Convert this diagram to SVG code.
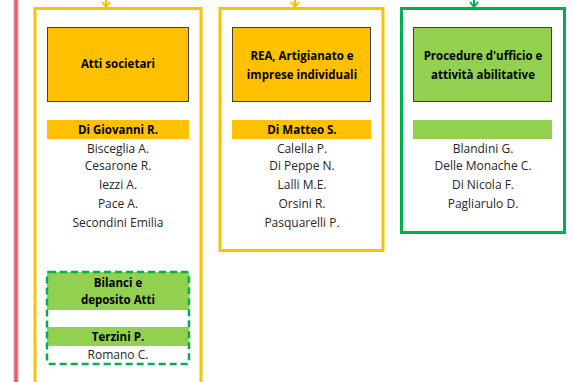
<svg xmlns="http://www.w3.org/2000/svg" width="573" height="382" viewBox="0 0 573 382">
<style>
text{font-family:"Open Sans","Liberation Sans",Arial,sans-serif;font-size:12px;fill:#262626;text-anchor:middle}
.b{font-weight:bold;fill:#000;font-size:11.5px}
.frameY{fill:#fff;stroke:#ffc000;stroke-width:3}
.frameG{fill:#fff;stroke:#00b050;stroke-width:3}
.head{stroke:#3f3f3f;stroke-width:1}
.y{fill:#ffc000}
.g{fill:#92d050}
.arrY{fill:none;stroke:#ffc000;stroke-width:2}
.arrG{fill:none;stroke:#00b050;stroke-width:2}
</style>
<rect x="0" y="0" width="573" height="382" fill="#fff"/>
<g id="redline">
<rect x="14" y="0" width="4" height="382" fill="#d9676b"/>
<rect x="13.5" y="0" width="0.8" height="382" fill="#eeb0b2"/>
<rect x="17.7" y="0" width="0.8" height="382" fill="#eeb0b2"/>
</g>
<g id="connectors">
<path class="arrY" d="M106 0 V7 M102 2 L106 7 L110 2"/>
<path class="arrY" d="M295 0 V7 M291 2 L295 7 L299 2"/>
<path class="arrG" d="M474 0 V7 M470 2 L474 7 L478 2"/>
</g>
<g id="atti-societari">
<rect class="frameY" x="35" y="8.5" width="166" height="380"/>
<rect class="y head" x="47.5" y="27.5" width="141" height="74"/>
<text class="b" x="118" y="68">Atti societari</text>
<rect class="y" x="47" y="120" width="142" height="19"/>
<text class="b" x="118" y="134">Di Giovanni R.</text>
<text x="118" y="153">Bisceglia A.</text>
<text x="118" y="170">Cesarone R.</text>
<text x="118" y="189">Iezzi A.</text>
<text x="118" y="208">Pace A.</text>
<text x="118" y="227">Secondini Emilia</text>
</g>
<g id="bilanci">
<rect x="47" y="272" width="142" height="38" class="g"/>
<rect x="47" y="327" width="142" height="19" class="g"/>
<rect x="47" y="272" width="142" height="92" rx="2" fill="none" stroke="#00b050" stroke-width="2.5" stroke-dasharray="7 4"/>
<text class="b" x="118" y="287">Bilanci e</text>
<text class="b" x="118" y="304">deposito Atti</text>
<text class="b" x="118" y="341">Terzini P.</text>
<text x="118" y="359">Romano C.</text>
</g>
<g id="rea">
<rect class="frameY" x="220" y="8.5" width="163" height="242"/>
<rect class="y head" x="232.5" y="27.5" width="138" height="74"/>
<text class="b" x="302" y="60">REA, Artigianato e</text>
<text class="b" x="302" y="79">imprese individuali</text>
<rect class="y" x="232" y="120" width="139" height="19"/>
<text class="b" x="302" y="134">Di Matteo S.</text>
<text x="302" y="153">Calella P.</text>
<text x="302" y="170">Di Peppe N.</text>
<text x="302" y="189">Lalli M.E.</text>
<text x="302" y="208">Orsini R.</text>
<text x="302" y="227">Pasquarelli P.</text>
</g>
<g id="procedure">
<rect class="frameG" x="401.5" y="8.5" width="163" height="224"/>
<rect class="g head" x="413.5" y="27.5" width="138" height="74"/>
<text class="b" x="483" y="60">Procedure d'ufficio e</text>
<text class="b" x="483" y="79">attività abilitative</text>
<rect class="g" x="413" y="120" width="139" height="19"/>
<text x="483" y="153">Blandini G.</text>
<text x="483" y="170">Delle Monache C.</text>
<text x="483" y="189">Di Nicola F.</text>
<text x="483" y="208">Pagliarulo D.</text>
</g>
</svg>
